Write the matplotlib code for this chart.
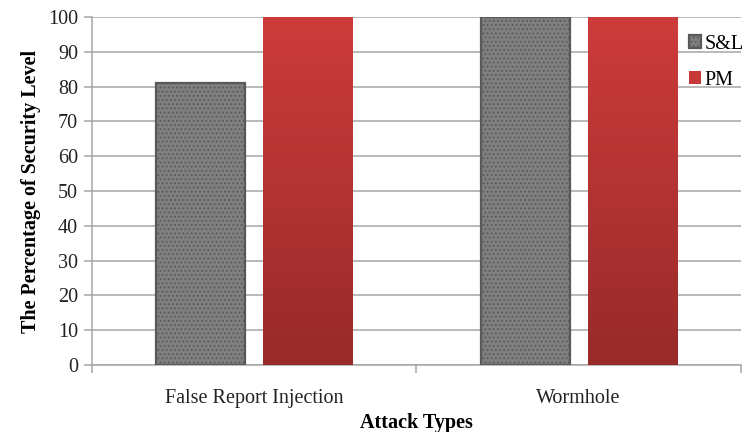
import numpy as np
import matplotlib
matplotlib.use("Agg")
import matplotlib.pyplot as plt
from matplotlib.colors import LinearSegmentedColormap
from matplotlib.ticker import FixedLocator

plt.rcParams["font.family"] = ["Liberation Serif", "DejaVu Serif"]
plt.rcParams["hatch.color"] = "#d9d9d9"
plt.rcParams["hatch.linewidth"] = 0.8

categories = ["False Report Injection", "Wormhole"]
sl_values = [81, 100]
pm_values = [100, 100]
series_names = ["S&L", "PM"]

WIDTH = 0.275
OFFSET = 0.165
GRID = "#a6a6a6"
FS = 14.5

fig = plt.figure(figsize=(7.45, 4.32), dpi=100)
ax = fig.add_axes([0.1235, 0.155, 0.871, 0.8055])

x = np.arange(1, len(categories) + 1)

sl_bars = ax.bar(x - OFFSET, sl_values, WIDTH, facecolor="#7f7f7f",
                 edgecolor="#595959", linewidth=1.6, hatch="....",
                 zorder=3, label=series_names[0])
pm_bars = ax.bar(x + OFFSET, pm_values, WIDTH, color="#c83a39",
                 zorder=3, label=series_names[1])

# vertical red gradient inside PM bars
red_cmap = LinearSegmentedColormap.from_list("red", ["#982a2a", "#cd3c3b"])
grad = np.linspace(0, 1, 256).reshape(-1, 1)
for b in pm_bars:
    bx, by = b.get_x(), b.get_y()
    bw, bh = b.get_width(), b.get_height()
    im = ax.imshow(grad, extent=[bx, bx + bw, by, by + bh], origin="lower",
                   cmap=red_cmap, aspect="auto", zorder=3.5)
    im.set_clip_path(b)
ax.set_xlim(0.5, len(categories) + 0.5)
ax.set_ylim(0, 100)

ax.set_yticks(np.arange(0, 101, 10))
ax.yaxis.grid(True, color=GRID, linewidth=1.1, zorder=0)
ax.set_axisbelow(True)
ax.set_xticks(x)
ax.set_xticklabels(categories)
ax.xaxis.set_minor_locator(FixedLocator(np.arange(0.5, len(categories) + 1, 1.0)))
ax.tick_params(axis="x", which="major", length=0, pad=17, labelsize=FS, colors="#222222")
ax.tick_params(axis="x", which="minor", length=6, color=GRID, width=1.1)
ax.tick_params(axis="y", length=6, color=GRID, width=1.1, labelsize=FS,
               labelcolor="#222222", pad=4)

for s in ["top", "right"]:
    ax.spines[s].set_visible(False)
for s in ["left", "bottom"]:
    ax.spines[s].set_color(GRID)
    ax.spines[s].set_linewidth(1.1)

ax.set_xlabel("Attack Types", fontsize=FS, fontweight="bold", labelpad=4)
ax.set_ylabel("The Percentage of Security Level", fontsize=FS,
              fontweight="bold", labelpad=5)

leg = ax.legend(loc="upper left", bbox_to_anchor=(0.907, 0.972), frameon=False,
                fontsize=FS, handlelength=0.6, handleheight=0.6,
                handletextpad=0.2, labelspacing=0.85, borderaxespad=0)

fig.savefig("out.png", dpi=100)
